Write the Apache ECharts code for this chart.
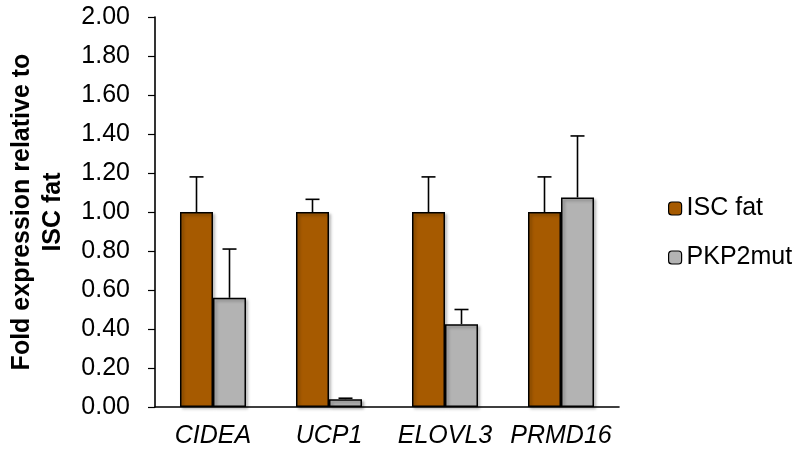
<!DOCTYPE html>
<html><head><meta charset="utf-8">
<script src="https://cdn.jsdelivr.net/npm/echarts@6/dist/echarts.min.js"></script>
<style>html,body{margin:0;padding:0;background:#fff}#c{width:804px;height:452px}</style>
</head><body><div id="c"></div>
<script>
const categories = ['CIDEA', 'UCP1', 'ELOVL3', 'PRMD16'];
const seriesNames = ['ISC fat', 'PKP2mut'];
const iscFat = [1.00, 1.00, 1.00, 1.00];
const iscFatErr = [0.18, 0.065, 0.18, 0.18];
const pkp2mut = [0.56, 0.04, 0.425, 1.075];
const pkp2mutErr = [0.25, 0.005, 0.075, 0.315];
const yTicks = ['0.00','0.20','0.40','0.60','0.80','1.00','1.20','1.40','1.60','1.80','2.00'];

const BAR_W = 33;
const font = 'Liberation Sans, Arial, sans-serif';

function errSeries(vals, errs, offset) {
  return {
    type: 'custom',
    silent: true,
    z: 1,
    data: vals.map((v, i) => [i, v, v + errs[i]]),
    renderItem: function (params, api) {
      const i = api.value(0);
      const base = api.coord([i, api.value(1)]);
      const top = api.coord([i, api.value(2)]);
      const x = base[0] + offset;
      const cap = 7;
      return {
        type: 'group',
        children: [
          { type: 'line', shape: { x1: x, y1: base[1], x2: x, y2: top[1] }, style: { stroke: '#000', lineWidth: 1.6 } },
          { type: 'line', shape: { x1: x - cap, y1: top[1], x2: x + cap, y2: top[1] }, style: { stroke: '#000', lineWidth: 1.6 } }
        ]
      };
    }
  };
}

const chart = echarts.init(document.getElementById('c'));
chart.setOption({
  animation: false,
  backgroundColor: '#fff',
  grid: { left: 155, right: 185, top: 17, bottom: 45, outerBoundsMode: 'none', containLabel: false },
  legend: {
    orient: 'vertical',
    left: 668,
    top: 196,
    padding: 0,
    itemWidth: 13,
    itemHeight: 13,
    itemGap: 24,
    data: seriesNames,
    textStyle: { fontFamily: font, fontSize: 25, color: '#000' },
    itemStyle: { borderColor: '#000', borderWidth: 1.2 }
  },
  xAxis: {
    type: 'category',
    data: categories,
    axisLine: { lineStyle: { color: '#000', width: 1.6 } },
    axisTick: { show: false },
    axisLabel: { interval: 0, hideOverlap: false, fontFamily: font, fontSize: 25, fontStyle: 'italic', color: '#000', margin: 17 }
  },
  yAxis: {
    type: 'value',
    min: 0, max: 2, interval: 0.2,
    name: 'Fold expression relative to\nISC fat',
    nameLocation: 'middle',
    nameRotate: 90,
    nameGap: 86,
    nameTextStyle: { fontFamily: font, fontSize: 25, fontWeight: 'bold', color: '#000', lineHeight: 31 },
    axisLine: { show: true, lineStyle: { color: '#000', width: 1.6 } },
    axisTick: { show: true, length: 7, lineStyle: { color: '#000', width: 1.2 } },
    splitLine: { show: false },
    axisLabel: {
      fontFamily: font, fontSize: 25, color: '#000', margin: 25,
      formatter: function (v) { return yTicks[Math.round(v / 0.2)]; }
    }
  },
  series: [
    {
      name: seriesNames[0], type: 'bar', data: iscFat, barWidth: BAR_W, barGap: '0%', z: 2,
      itemStyle: { color: '#A65A00', borderColor: '#000', borderWidth: 1.5, shadowBlur: 3, shadowOffsetX: 2, shadowOffsetY: 2, shadowColor: 'rgba(0,0,0,0.3)' }
    },
    {
      name: seriesNames[1], type: 'bar', data: pkp2mut, barWidth: BAR_W, barGap: '0%', z: 2,
      itemStyle: { color: '#B3B3B3', borderColor: '#000', borderWidth: 1.5, shadowBlur: 3, shadowOffsetX: 2, shadowOffsetY: 2, shadowColor: 'rgba(0,0,0,0.3)' }
    },
    errSeries(iscFat, iscFatErr, -BAR_W / 2),
    errSeries(pkp2mut, pkp2mutErr, BAR_W / 2)
  ]
});
</script></body></html>
